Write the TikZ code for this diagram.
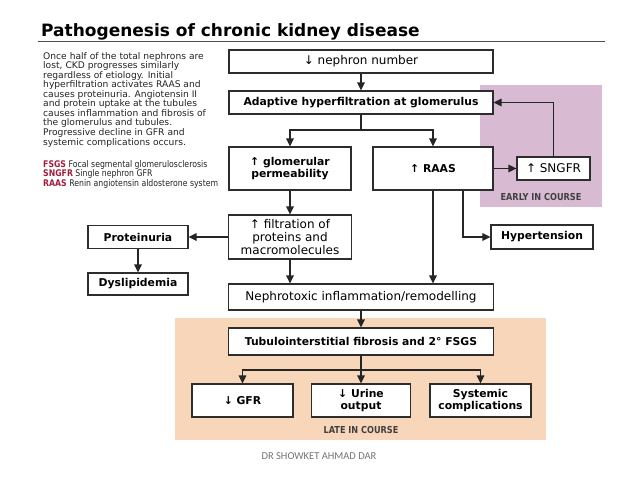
\documentclass[tikz,border=0pt]{standalone}
\usepackage{fontspec}
\setmainfont{DejaVu Sans}
\newfontfamily\footfont{Carlito}
\usetikzlibrary{arrows.meta}
\definecolor{early}{RGB}{216,186,210}
\definecolor{late}{RGB}{248,214,186}
\definecolor{edge}{RGB}{45,45,45}
\definecolor{legred}{RGB}{160,30,60}
\definecolor{bodytext}{RGB}{35,35,35}
\begin{document}
\begin{tikzpicture}[x=1pt,y=-1pt,
  box/.style={draw=edge, line width=1.1pt, fill=white, inner sep=0pt, align=center, text=black},
  bbox/.style={box, font=\fontsize{10.8}{12.5}\selectfont\bfseries},
  rbox/.style={box, font=\fontsize{12}{13.3}\selectfont},
  conn/.style={draw=black!85, line width=1.1pt},
  arr/.style={conn, -{Triangle[length=8pt,width=7.5pt]}},
  bodyline/.style={anchor=base west, inner sep=0pt, font=\fontsize{9.15}{10}\selectfont, text=bodytext},
  region/.style={inner sep=0pt, font=\fontsize{9.6}{10}\selectfont\bfseries, text=black!75}]

\useasboundingbox (0,0) rectangle (638,479);
\fill[early] (480,85) rectangle (602,207);
\fill[late] (175,318) rectangle (546,440);

% title
\node[anchor=base west, inner sep=0pt, font=\fontsize{17}{18}\selectfont\bfseries] (title) at (41,36) {Pathogenesis of chronic kidney disease};
\draw[line width=1.2pt, black!70] (38,41.5) -- (605,41.5);

% left text
\foreach \t [count=\i from 0] in {
  {Once half of the total nephrons are},
  {lost, CKD progresses similarly},
  {regardless of etiology. Initial},
  {hyperfiltration activates RAAS and},
  {causes proteinuria. Angiotensin II},
  {and protein uptake at the tubules},
  {causes inflammation and fibrosis of},
  {the glomerulus and tubules.},
  {Progressive decline in GFR and},
  {systemic complications occurs.}}
  \node[bodyline] at (43,59+9.56*\i) {\t};

\node[bodyline] (l1) at (43,167.3) {\scalebox{0.85}[1]{\textcolor{legred}{\bfseries FSGS} Focal segmental glomerulosclerosis}};
\node[bodyline] (l2) at (43,176.9) {\scalebox{0.85}[1]{\textcolor{legred}{\bfseries SNGFR} Single nephron GFR}};
\node[bodyline] (l3) at (43,186.5) {\scalebox{0.85}[1]{\textcolor{legred}{\bfseries RAAS} Renin angiotensin aldosterone system}};

% boxes
\node[rbox, minimum width=264pt, minimum height=23pt] (nn) at (361,61.5) {↓ nephron number};
\node[bbox, minimum width=264pt, minimum height=23pt] (ah) at (361,102.5) {Adaptive hyperfiltration at glomerulus};
\node[bbox, minimum width=122pt, minimum height=43pt] (gp) at (290,168.5) {↑ glomerular\\permeability};
\node[bbox, minimum width=120pt, minimum height=43pt] (raas) at (433,168.5) {↑ RAAS};
\node[rbox, minimum width=73pt, minimum height=23pt] (sng) at (553.5,168.5) {↑ SNGFR};
\node[rbox, minimum width=123pt, minimum height=44pt] (ft) at (290,237) {↑ filtration of\\proteins and\\macromolecules};
\node[bbox, minimum width=100pt, minimum height=23pt] (pr) at (138,237) {Proteinuria};
\node[bbox, minimum width=100pt, minimum height=22pt] (dy) at (138,284) {Dyslipidemia};
\node[bbox, minimum width=102pt, minimum height=24pt] (hy) at (542,237) {Hypertension};
\node[rbox, minimum width=265pt, minimum height=26pt] (nt) at (361,297) {Nephrotoxic inflammation/remodelling};
\node[bbox, minimum width=265pt, minimum height=27pt] (tf) at (361,341.5) {Tubulointerstitial fibrosis and 2° FSGS};
\node[bbox, minimum width=101pt, minimum height=33pt] (gfr) at (242.5,400.5) {↓ GFR};
\node[bbox, minimum width=99pt, minimum height=33pt] (uo) at (361,400.5) {↓ Urine\\output};
\node[bbox, minimum width=101pt, minimum height=33pt] (sc) at (480.5,400.5) {Systemic\\complications};

% region labels
\node[region] (early) at (541,197) {\scalebox{0.85}[1]{EARLY IN COURSE}};
\node[region] (late) at (361,430) {\scalebox{0.85}[1]{LATE IN COURSE}};

% footer
\node[inner sep=0pt, font=\footfont\fontsize{10.5}{12}\selectfont, text=black!55] (foot) at (319,456) {DR SHOWKET AHMAD DAR};

% connectors
\draw[arr] (nn) -- (ah);
\coordinate (s1) at (361,130);
\draw[conn] (ah.south) -- (s1);
\draw[arr] (s1) -| (gp.north);
\draw[arr] (s1) -| (raas.north);
\draw[arr] (raas.east) -- (sng.west);
\draw[arr] (sng.north) |- (ah.east);
\draw[arr] (gp) -- (ft);
\draw[arr] (ft.west) -- (pr.east);
\draw[arr] (pr) -- (dy);
\draw[arr] (raas.south) -- (raas.south |- nt.north);
\draw[arr] ([xshift=30pt]raas.south) |- (hy.west);
\draw[arr] (ft.south) -- (ft.south |- nt.north);
\draw[arr] (nt) -- (tf);
\coordinate (s2) at (361,370);
\draw[conn] (tf.south) -- (s2);
\draw[arr] (s2) -| (gfr.north);
\draw[arr] (s2) -- (uo.north);
\draw[arr] (s2) -| (sc.north);
\end{tikzpicture}
\end{document}
